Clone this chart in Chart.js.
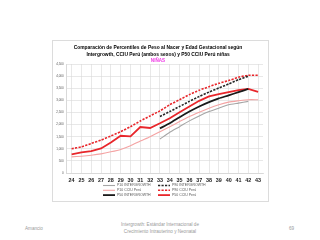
<!DOCTYPE html>
<html>
<head>
<meta charset="utf-8">
<script src="https://cdn.jsdelivr.net/npm/chart.js@4"></script>
<style>
	body { margin: 0; width: 320px; height: 240px; background: #fff; position: relative; overflow: hidden; font-family: "Liberation Sans", Arial, sans-serif; }
	#box { position: absolute; left: 52px; top: 40px; width: 215px; height: 160px; border: 1px solid #dcdcdc; background: #fff; }
	.foot { position: absolute; color: #9a9a9a; font-size: 4.6px; line-height: 6.6px; white-space: nowrap; }
</style>
</head>
<body>
<div id="box"><canvas id="result_chart" width="215" height="160"></canvas></div>
<div class="foot" style="left:25px; top:226px;">Amancio</div>
<div class="foot" style="left:100px; width:120px; top:222px; text-align:center;">Intergrowth: Estándar Internacional de<br>Crecimiento Intrauterino y Neonatal</div>
<div class="foot" style="left:289px; top:226px;">69</div>
<script>
var semanas = ['24', '25', '26', '27', '28', '29', '30', '31', '32', '33', '34', '35', '36', '37', '38', '39', '40', '41', '42', '43'];

var p10Intergrowth = [null, null, null, null, null, null, null, null, null, 1405, 1685, 1915, 2155, 2360, 2540, 2680, 2820, 2890, 2960, null];
var p90Intergrowth = [null, null, null, null, null, null, null, null, null, 2335, 2540, 2750, 2960, 3165, 3345, 3515, 3680, 3860, 4000, null];
var p50Intergrowth = [null, null, null, null, null, null, null, null, null, 1845, 2055, 2305, 2540, 2750, 2930, 3085, 3210, 3345, 3475, null];

var p10Ccciu = [665, 695, 735, 790, 875, 975, 1125, 1320, 1500, 1710, 1915, 2125, 2335, 2515, 2680, 2820, 2930, 2985, 3030, 3030];
var p90Ccciu = [1000, 1085, 1220, 1360, 1530, 1710, 1915, 2150, 2360, 2570, 2820, 3030, 3240, 3420, 3570, 3710, 3820, 3960, 4040, 4040];
var p50Ccciu = [770, 850, 905, 1015, 1265, 1540, 1515, 1900, 1860, 2055, 2265, 2515, 2750, 2985, 3165, 3265, 3345, 3430, 3475, 3350];

// leyenda en dos columnas, como en la diapositiva
var leyenda = {
	id: 'leyenda',
	afterDraw: function (chart) {
		var ctx = chart.ctx;
		ctx.save();
		ctx.font = '3.5px "Liberation Sans", Arial, sans-serif';
		ctx.fillStyle = '#555';
		ctx.textBaseline = 'middle';
		chart.data.datasets.forEach(function (ds, i) {
			var col = i % 2, row = Math.floor(i / 2);
			var x = col === 0 ? 50 : 105;
			var y = 144.5 + row * 4.8;
			ctx.beginPath();
			ctx.strokeStyle = ds.borderColor;
			ctx.lineWidth = ds.borderWidth;
			ctx.setLineDash(ds.borderDash || []);
			ctx.moveTo(x, y);
			ctx.lineTo(x + 12, y);
			ctx.stroke();
			ctx.setLineDash([]);
			ctx.fillText(ds.label, x + 14, y);
		});
		ctx.restore();
	}
};

var config = {
	type: 'line',
	data: {
		labels: semanas,
		datasets: [{
			label: 'P10 INTERGROWTH',
			data: p10Intergrowth,
			borderColor: '#a6a6a6',
			borderWidth: 1.1,
			tension: 0.2
		}, {
			label: 'P90 INTERGROWTH',
			data: p90Intergrowth,
			borderColor: '#262626',
			borderWidth: 1.6,
			borderDash: [2.2, 1.3],
			tension: 0.2
		}, {
			label: 'P10 CCIU Perú',
			data: p10Ccciu,
			borderColor: '#f4a3a3',
			borderWidth: 1.1,
			tension: 0.2
		}, {
			label: 'P90 CCIU Perú',
			data: p90Ccciu,
			borderColor: '#e8262b',
			borderWidth: 1.6,
			borderDash: [2.2, 1.3],
			tension: 0.2
		}, {
			label: 'P50 INTERGROWTH',
			data: p50Intergrowth,
			borderColor: '#1a1a1a',
			borderWidth: 1.8,
			tension: 0.2
		}, {
			label: 'P50 CCIU Perú',
			data: p50Ccciu,
			borderColor: '#e8262b',
			borderWidth: 1.8,
			tension: 0
		}]
	},
	options: {
		responsive: false,
		animation: false,
		spanGaps: false,
		elements: { point: { radius: 0 } },
		layout: {
			padding: { left: 0, right: 5, top: 0, bottom: 16 }
		},
		plugins: {
			legend: { display: false },
			tooltip: { enabled: false },
			title: {
				display: true,
				text: ['Comparación de Percentiles de Peso al Nacer y Edad Gestacional según', 'Intergrowth, CCIU Perú (ambos sexos) y P50 CCIU Perú niñas'],
				color: '#000',
				font: { family: '"Liberation Sans", Arial, sans-serif', size: 4.9, weight: 'bold', lineHeight: 1.4 },
				padding: { top: 3, bottom: 0 }
			},
			subtitle: {
				display: true,
				text: 'NIÑAS',
				color: '#f03ce6',
				font: { family: '"Liberation Sans", Arial, sans-serif', size: 4.6, weight: 'bold', lineHeight: 1.4 },
				padding: { top: 0, bottom: 0 }
			}
		},
		scales: {
			x: {
				offset: true,
				grid: { color: '#d9d9d9', lineWidth: 0.6, drawTicks: false, offset: false },
				border: { color: '#d9d9d9' },
				ticks: {
					color: '#1a1a1a',
					padding: 4,
					maxRotation: 0,
					autoSkip: false,
					font: { family: '"Liberation Sans", Arial, sans-serif', size: 5.4, weight: 'bold' }
				},
				afterFit: function (s) { s.height = 12; }
			},
			y: {
				min: 0,
				max: 4500,
				grid: { color: '#d9d9d9', lineWidth: 0.6, drawTicks: false },
				border: { color: '#d9d9d9' },
				ticks: {
					stepSize: 500,
					color: '#555',
					padding: 3,
					font: { family: '"Liberation Sans", Arial, sans-serif', size: 3 }
				},
				afterFit: function (s) { s.width = 13.7; }
			}
		}
	},
	plugins: [leyenda]
};

var ctx = document.getElementById('result_chart');
var chart = new Chart(ctx, config);
</script>
</body>
</html>
